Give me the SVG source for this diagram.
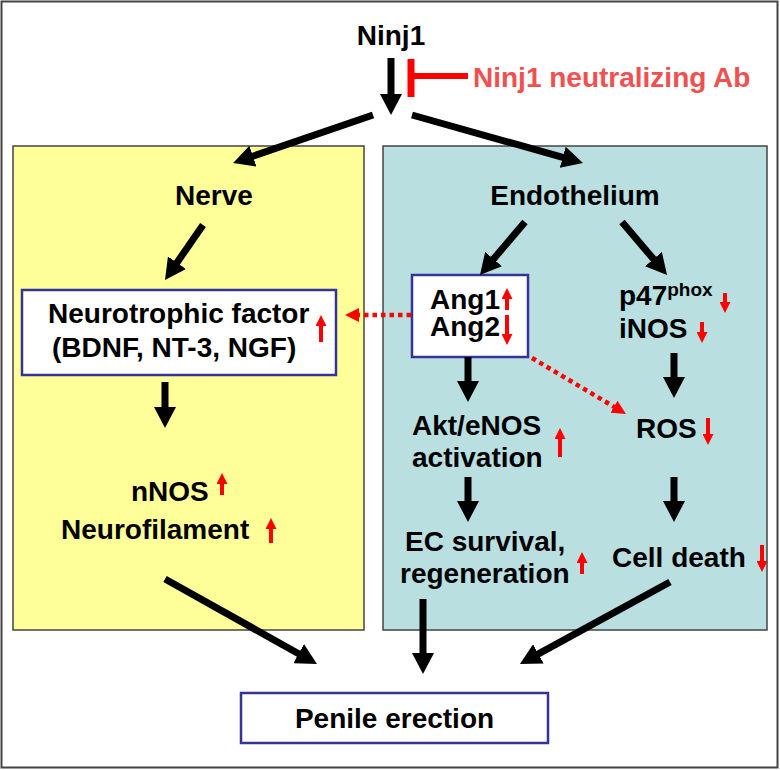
<svg xmlns="http://www.w3.org/2000/svg" width="780" height="770" viewBox="0 0 780 770">
<defs>
<style>
text{font-family:"Liberation Sans",Arial,sans-serif;font-weight:bold;font-size:28px;fill:#000}
.red{fill:#F05050}
.c{text-anchor:middle}
.sup{font-size:19px}
.blk{stroke:#000;stroke-width:7;fill:none}
.rar{stroke:#FF0000;stroke-width:4;fill:none}
.dot{stroke:#FF0000;stroke-width:4.5;stroke-dasharray:4.5,4;fill:none}
.node{fill:#fff;stroke:#333399;stroke-width:2.5}
</style>
<marker id="ah" markerUnits="userSpaceOnUse" viewBox="0 0 22 22" markerWidth="22" markerHeight="22" refX="1" refY="11" orient="auto"><path d="M0,0 L21,11 L0,22 z" fill="#000"/></marker>
<marker id="rh" markerUnits="userSpaceOnUse" viewBox="0 0 11 11" markerWidth="11" markerHeight="11" refX="1" refY="5.5" orient="auto"><path d="M0,0 L11,5.5 L0,11 z" fill="#FF0000"/></marker>
<marker id="dh" markerUnits="userSpaceOnUse" viewBox="0 0 14 14" markerWidth="14" markerHeight="14" refX="1" refY="7" orient="auto"><path d="M0,0 L14,7 L0,14 z" fill="#FF0000"/></marker>
</defs>
<rect x="1.5" y="1.5" width="776" height="766" fill="#fff" stroke="#444" stroke-width="2"/>
<g id="nerve-panel">
<rect x="13" y="146" width="351" height="484" fill="#FFFF99" stroke="#444" stroke-width="1.5"/>
</g>
<g id="endothelium-panel">
<rect x="383" y="146" width="384" height="484" fill="#B9DFE1" stroke="#444" stroke-width="1.5"/>
</g>
<g id="ninj1"><text x="391" y="45" class="c">Ninj1</text></g>
<g id="antibody">
<text x="473" y="87" class="red">Ninj1 neutralizing Ab</text>
<line x1="411" y1="59" x2="411" y2="97" stroke="#FF0000" stroke-width="7"/>
<line x1="411" y1="76" x2="468" y2="76" stroke="#FF0000" stroke-width="6"/>
</g>
<g id="nerve"><text x="214" y="205" class="c">Nerve</text></g>
<g id="endothelium"><text x="575" y="205" class="c">Endothelium</text></g>
<g id="neurotrophic">
<rect x="22" y="290" width="314" height="85" class="node"/>
<text x="48" y="323">Neurotrophic factor</text>
<text x="52" y="357">(BDNF, NT-3, NGF)</text>
<line x1="321" y1="342" x2="321" y2="325" class="rar" marker-end="url(#rh)"/>
</g>
<g id="nnos">
<text x="131" y="501">nNOS</text>
<line x1="222" y1="495" x2="222" y2="483" class="rar" marker-end="url(#rh)"/>
<text x="61" y="539">Neurofilament</text>
<line x1="271" y1="543" x2="271" y2="528" class="rar" marker-end="url(#rh)"/>
</g>
<g id="ang">
<rect x="412" y="275" width="116" height="82" class="node"/>
<text x="430" y="309">Ang1</text>
<text x="430" y="336">Ang2</text>
<line x1="507" y1="310" x2="507" y2="298" class="rar" marker-end="url(#rh)"/>
<line x1="507" y1="315" x2="507" y2="335" class="rar" marker-end="url(#rh)"/>
</g>
<g id="p47">
<text x="619" y="305">p47<tspan class="sup" dy="-9">phox</tspan></text>
<line x1="725" y1="293" x2="725" y2="303" class="rar" marker-end="url(#rh)"/>
<text x="619" y="338">iNOS</text>
<line x1="702" y1="322" x2="702" y2="333" class="rar" marker-end="url(#rh)"/>
</g>
<g id="akt">
<text x="412" y="435">Akt/eNOS</text>
<text x="412" y="467">activation</text>
<line x1="560" y1="457" x2="560" y2="438" class="rar" marker-end="url(#rh)"/>
</g>
<g id="ros">
<text x="636" y="438">ROS</text>
<line x1="708" y1="418" x2="708" y2="435" class="rar" marker-end="url(#rh)"/>
</g>
<g id="ec">
<text x="405" y="551">EC survival,</text>
<text x="400" y="583">regeneration</text>
<line x1="582" y1="574" x2="582" y2="562" class="rar" marker-end="url(#rh)"/>
</g>
<g id="celldeath">
<text x="612" y="567">Cell death</text>
<line x1="762" y1="545" x2="762" y2="562" class="rar" marker-end="url(#rh)"/>
</g>
<g id="penile">
<rect x="241" y="693" width="307" height="50" class="node"/>
<text x="394.5" y="728" class="c">Penile erection</text>
</g>
<g id="connectors">
<line x1="391" y1="58" x2="391" y2="95" class="blk" marker-end="url(#ah)"/>
<line x1="373" y1="115" x2="252" y2="156.5" class="blk" marker-end="url(#ah)"/>
<line x1="412" y1="115" x2="563.7" y2="157.6" class="blk" marker-end="url(#ah)"/>
<line x1="203" y1="225" x2="176.4" y2="263.5" class="blk" marker-end="url(#ah)"/>
<line x1="165" y1="382" x2="165" y2="408" class="blk" marker-end="url(#ah)"/>
<line x1="525" y1="222" x2="492.9" y2="259.8" class="blk" marker-end="url(#ah)"/>
<line x1="622" y1="222" x2="654.1" y2="259.8" class="blk" marker-end="url(#ah)"/>
<line x1="468" y1="357" x2="468" y2="382" class="blk" marker-end="url(#ah)"/>
<line x1="674" y1="353" x2="674" y2="378" class="blk" marker-end="url(#ah)"/>
<line x1="468" y1="477" x2="468" y2="502" class="blk" marker-end="url(#ah)"/>
<line x1="674" y1="477" x2="674" y2="502" class="blk" marker-end="url(#ah)"/>
<line x1="165" y1="579" x2="299.5" y2="654.2" class="blk" marker-end="url(#ah)"/>
<line x1="423" y1="599" x2="423" y2="654" class="blk" marker-end="url(#ah)"/>
<line x1="670" y1="582" x2="537.5" y2="654.4" class="blk" marker-end="url(#ah)"/>
<line x1="411" y1="315" x2="358" y2="315" class="dot" marker-end="url(#dh)"/>
<line x1="532" y1="358" x2="614.8" y2="407.3" class="dot" marker-end="url(#dh)"/>
</g>
</svg>
